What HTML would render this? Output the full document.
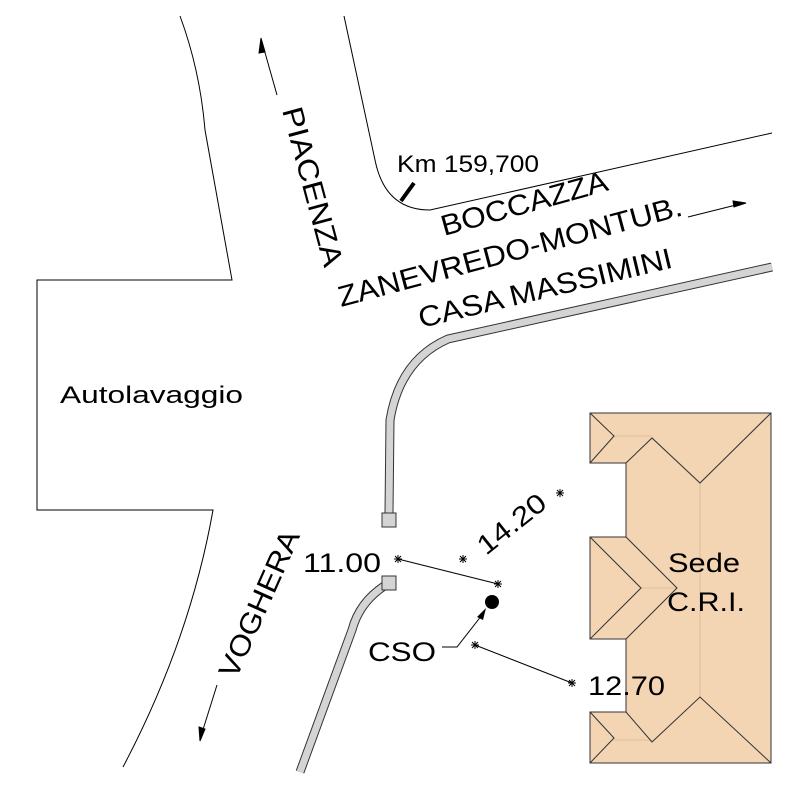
<!DOCTYPE html>
<html><head><meta charset="utf-8"><style>html,body{margin:0;padding:0;background:#fff}svg{display:block}</style></head>
<body>
<svg width="788" height="788" viewBox="0 0 788 788" xmlns="http://www.w3.org/2000/svg" font-family="Liberation Sans, Arial, sans-serif">
<rect width="788" height="788" fill="#fff"/>
<g fill="none" stroke="#000" stroke-width="1">
  <path d="M180,16 Q200,70 205,130 L232,280 L37,280 L37,510 L213,510 Q190,640 123,767"/>
  <path d="M344,16 L375,160 Q385,210 430,210 L772,133"/>
</g>
<line x1="414" y1="183" x2="401" y2="201" stroke="#000" stroke-width="4"/>
<g fill="none" stroke-linejoin="round">
  <path d="M772,267 L448,339 Q400,360 390,420 L389,513" stroke="#333" stroke-width="9"/>
  <path d="M772,267 L448,339 Q400,360 390,420 L389,513" stroke="#d4d4d4" stroke-width="7"/>
  <path d="M389,583 Q360,600 352,630 L300,772" stroke="#333" stroke-width="9"/>
  <path d="M389,583 Q360,600 352,630 L300,772" stroke="#d4d4d4" stroke-width="7"/>
</g>
<rect x="382" y="513" width="14" height="14" fill="#d4d4d4" stroke="#333"/>
<rect x="382" y="576" width="14" height="14" fill="#d4d4d4" stroke="#333"/>
<path d="M590,413 L771,413 L771,763 L590,763 L590,712 L626,712 L626,639 L590,639 L590,537 L626,537 L626,463 L590,463 Z" fill="#f3d5b3" stroke="#333"/>
<g fill="none" stroke="#e8c9a8" stroke-width="2">
  <path d="M614,436 L652,436 M700,483 L700,697 M641,588 L677,588 M614,740 L652,740"/>
</g>
<g fill="none" stroke="#333" stroke-width="1">
  <path d="M590,413 L614,436 L590,463 M626,463 L652,438 L700,483 L771,413"/>
  <path d="M590,537 L641,588 L590,639 M626,537 L677,588 L626,639"/>
  <path d="M590,712 L614,738 L590,763 M626,712 L652,742 L700,697 L771,763"/>
</g>
<g stroke="#000" stroke-width="1" fill="#000">
  <line x1="277" y1="95" x2="262" y2="42"/><path d="M261,38 L265,52 L259,53 Z"/>
  <line x1="688" y1="217" x2="740" y2="204"/><path d="M746,203 L733,201 L734,207 Z"/>
  <line x1="217" y1="685" x2="201" y2="736"/><path d="M200,741 L199,727 L205,729 Z"/>
</g>
<g stroke="#000" stroke-width="1" fill="none">
  <line x1="398" y1="559" x2="498" y2="584"/>
  <line x1="475" y1="645" x2="572" y2="683"/>
  <path d="M442,647 L457,647 L482,615"/>
</g>
<path d="M486,608 L477,617 L483,620 Z" fill="#000"/>
<circle cx="492" cy="602" r="7" fill="#000"/>
<g stroke="#000" stroke-width="1">
  <path d="M394,559 l8,0 M398,555 l0,8 M395,556 l6,6 M401,556 l-6,6"/>
  <path d="M494,584 l8,0 M498,580 l0,8 M495,581 l6,6 M501,581 l-6,6"/>
  <path d="M459,559 l8,0 M463,555 l0,8 M460,556 l6,6 M466,556 l-6,6"/>
  <path d="M556,493 l8,0 M560,489 l0,8 M557,490 l6,6 M563,490 l-6,6"/>
  <path d="M471,645 l8,0 M475,641 l0,8 M472,642 l6,6 M478,642 l-6,6"/>
  <path d="M568,683 l8,0 M572,679 l0,8 M569,680 l6,6 M575,680 l-6,6"/>
</g>
<g fill="#000">
  <text x="397" y="172" font-size="24" textLength="142" lengthAdjust="spacingAndGlyphs">Km 159,700</text>
  <text transform="translate(282,110) rotate(75)" font-size="29" textLength="164" lengthAdjust="spacingAndGlyphs">PIACENZA</text>
  <text transform="translate(444,236) rotate(-15.5)" font-size="29" textLength="172" lengthAdjust="spacingAndGlyphs">BOCCAZZA</text>
  <text transform="translate(341,307) rotate(-15)" font-size="29" textLength="355" lengthAdjust="spacingAndGlyphs">ZANEVREDO-MONTUB.</text>
  <text transform="translate(421,328) rotate(-13.5)" font-size="29" textLength="260" lengthAdjust="spacingAndGlyphs">CASA MASSIMINI</text>
  <text transform="translate(236,680) rotate(-66)" font-size="29" textLength="158" lengthAdjust="spacingAndGlyphs">VOGHERA</text>
  <text x="60" y="403" font-size="24" textLength="183" lengthAdjust="spacingAndGlyphs">Autolavaggio</text>
  <text x="303" y="572" font-size="27" textLength="78" lengthAdjust="spacingAndGlyphs">11.00</text>
  <text transform="translate(486,556) rotate(-38.5)" font-size="27" textLength="80" lengthAdjust="spacingAndGlyphs">14.20</text>
  <text x="368" y="661" font-size="27" textLength="68" lengthAdjust="spacingAndGlyphs">CSO</text>
  <text x="588" y="695" font-size="27" textLength="77" lengthAdjust="spacingAndGlyphs">12.70</text>
  <text x="668" y="572" font-size="27" textLength="72" lengthAdjust="spacingAndGlyphs">Sede</text>
  <text x="667" y="611" font-size="27" textLength="78" lengthAdjust="spacingAndGlyphs">C.R.I.</text>
</g>
</svg>
</body></html>
